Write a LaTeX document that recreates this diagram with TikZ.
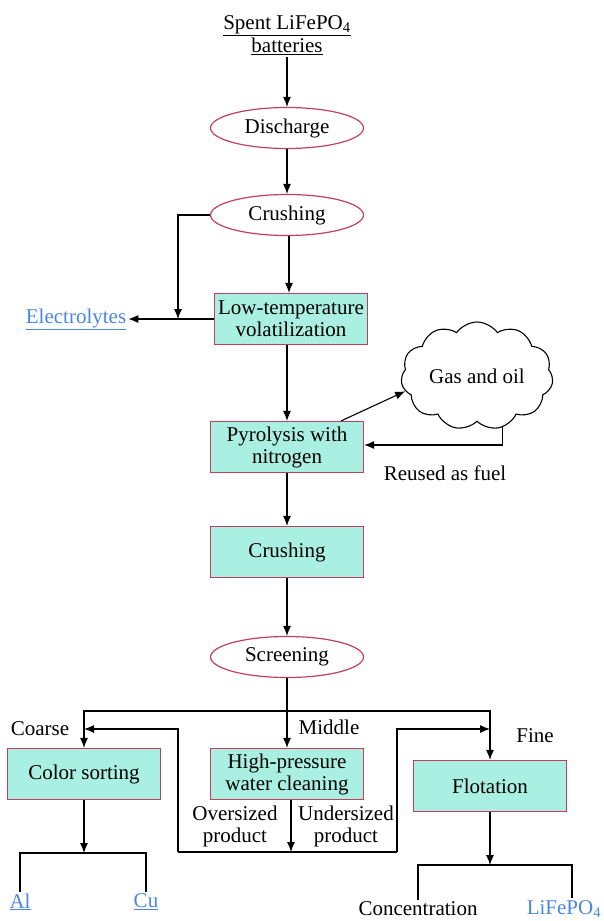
\documentclass[tikz,border=0pt]{standalone}
\usepackage{fontspec}
\setmainfont{Liberation Serif}
\usetikzlibrary{shapes.geometric,shapes.symbols,arrows.meta}

\definecolor{boxfill}{HTML}{AAF0E2}
\definecolor{boxline}{HTML}{C23F5C}
\definecolor{linkblue}{HTML}{4A86E8}

\tikzstyle{process} = [rectangle, minimum width=153pt, minimum height=51pt, text centered, align=center, inner sep=1pt, fill=boxfill, draw=boxline, line width=1.2pt]
\tikzstyle{term} = [ellipse, minimum width=153pt, minimum height=41pt, text centered, draw=boxline, line width=1.2pt]
\tikzstyle{vapour} = [cloud, cloud puffs=11, cloud puff arc=110, aspect=1.6, minimum width=138pt, minimum height=88pt, draw=black, line width=1.1pt]
\tikzstyle{label} = [align=center, inner sep=2pt]
\tikzstyle{link} = [align=center, inner sep=2pt, text=linkblue]
\tikzstyle{arrow} = [line width=1.1pt,->,>={Latex[length=10pt,width=8pt]}]
\tikzstyle{line} = [line width=1.1pt]

\begin{document}
\begin{tikzpicture}[x=1pt, y=-1pt, font=\fontsize{21}{22}\selectfont]
			\useasboundingbox (0,0) rectangle (603,921);

			\node (spent) [label] at (287,35) {\underline{Spent LiFePO\textsubscript{4}}\\[1pt]\underline{batteries}};
			\node (discharge) [term] at (287,128) {Discharge};
			\node (crush1) [term] at (287,215) {Crushing};
			\node (lowtemp) [process] at (291,319) {Low-temperature\\volatilization};
			\node (electro) [link] at (76,319) {\underline{Electrolytes}};
			\node (pyro) [process] at (287,447) {Pyrolysis with\\nitrogen};
			\node (gas) [vapour] at (477,376) {Gas and oil};
			\node (reused) [label] at (445,473) {Reused as fuel};
			\node (crush2) [process] at (287,552) {Crushing};
			\node (screen) [term] at (287,657) {Screening};

			\node (coarse) [label] at (40,729) {Coarse};
			\node (middle) [label] at (329,727) {Middle};
			\node (fine) [label] at (535,736) {Fine};
			\node (color) [process] at (84,774) {Color sorting};
			\node (hp) [process] at (287,774) {High-pressure\\water cleaning};
			\node (flot) [process] at (490,786) {Flotation};
			\node (over) [label] at (235,826) {Oversized\\product};
			\node (under) [label] at (346,826) {Undersized\\product};

			\node (al) [link] at (20,902) {\underline{Al}};
			\node (cu) [link] at (146,902) {\underline{Cu}};
			\node (conc) [label] at (418,909) {Concentration};
			\node (lfp) [link] at (564,909) {LiFePO\textsubscript{4}};

			\coordinate (ejoin) at (178,319);
			\coordinate (split) at (287,711);
			\coordinate (backL) at (178,852);
			\coordinate (backR) at (397,852);
			\coordinate (coarseIn) at (84,729);
			\coordinate (fineIn) at (490,729);
			\coordinate (cfork) at (84,853);
			\coordinate (ffork) at (490,865);

			\draw [arrow] (spent) -- (discharge);
			\draw [arrow] (discharge) -- (crush1);
			\draw [arrow] (crush1.west) -| (ejoin);
			\draw [arrow] ([xshift=2pt]crush1.south) -- ([xshift=2pt]crush1.south |- lowtemp.north);
			\draw [arrow] (lowtemp.west) -- (electro.east);
			\draw [arrow] (lowtemp.south -| pyro.north) -- (pyro.north);
			\draw [arrow] ([xshift=-23pt]pyro.north east) -- (gas.192);
			\draw [arrow] (gas.-64) |- ([yshift=2pt]pyro.east);
			\draw [arrow] (pyro) -- (crush2);
			\draw [arrow] (crush2) -- (screen);

			\draw [line] (screen.south) -- (split);
			\draw [arrow] (split) -- (hp.north);
			\draw [arrow] (split) -| (color.north);
			\draw [arrow] (split) -| (flot.north);

			\draw [line] (backL) -- (backR);
			\draw [arrow] (backL) |- (coarseIn);
			\draw [arrow] (backR) |- (fineIn);
			\draw [arrow] ([xshift=4pt]hp.south) -- ([xshift=4pt]hp.south |- backL);

			\draw [arrow] (color.south) -- (cfork);
			\draw [line] (al.north) |- (cfork) -| (cu.north);
			\draw [arrow] (flot.south) -- (ffork);
			\draw [line] (conc.north) |- (ffork) -| ([xshift=8pt]lfp.north);
		\end{tikzpicture}
\end{document}
